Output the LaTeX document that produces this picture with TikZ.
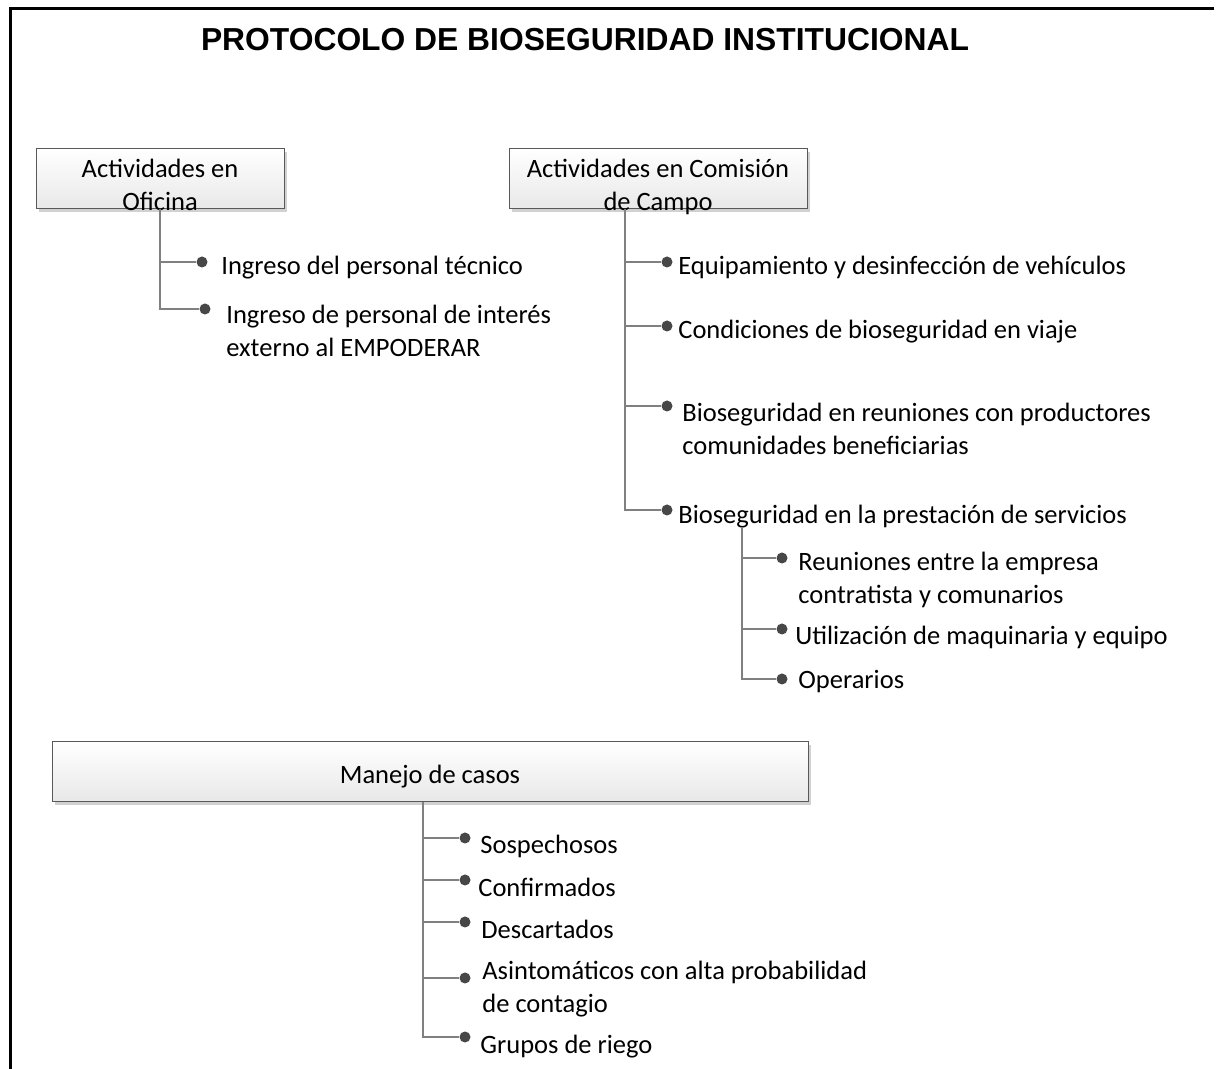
\documentclass[tikz,border=0pt]{standalone}
\usepackage{fontspec}
\setmainfont{Carlito}
\newfontfamily\titulofont{Liberation Sans}
\usetikzlibrary{shadows}

\begin{document}
\begin{tikzpicture}[x=0.5pt,y=-0.5pt,
    caja/.style={draw=black!65, line width=0.5pt, top color=white, bottom color=black!9,
      minimum width=#1, minimum height=30pt, inner sep=0pt,
      drop shadow={shadow xshift=1.5pt,shadow yshift=-1.5pt,fill=black!18,opacity=1}},
    rotulo/.style={anchor=base, inner sep=0pt, align=flush center, text width=#1,
      font=\fontsize{13.25pt}{16.5pt}\selectfont},
    rama/.style={draw=black!50, line width=0.7pt},
    punto/.style={circle, fill=black!72, minimum size=5.5pt, inner sep=0pt},
    item/.style={anchor=base west, inner sep=0pt, align=flush left,
      font=\fontsize{13.25pt}{16.5pt}\selectfont},
    item2/.style={item, text width=#1}]
  \useasboundingbox (0,0) rectangle (1223,1069);
  % marco
  \draw[line width=1.5pt] (10.5,1069) -- (10.5,9) -- (1214,9);
  \node[anchor=base, inner sep=0pt, font=\titulofont\bfseries\fontsize{15.9pt}{18pt}\selectfont]
    (tit) at (585,51) {PROTOCOLO DE BIOSEGURIDAD INSTITUCIONAL};

  % cajas
  \node[caja=124pt] (ofi) at (160,179) {};
  \node[rotulo=120pt] (ofit) at (160,178) {Actividades en\\Oficina};
  \node[caja=149pt] (campo) at (658,179) {};
  \node[rotulo=145pt] (campot) at (658,178) {Actividades en Comisi\'on\\de Campo};
  \node[caja=378pt] (casos) at (430,772) {};
  \node[rotulo=200pt] (casost) at (430,784) {Manejo de casos};

  % oficina
  \node[punto] (o1) at (202,262) {};
  \node[punto] (o2) at (205,309) {};
  \node[item] (o1t) at (221,275) {Ingreso del personal t\'ecnico};
  \node[item2=180pt] (o2t) at (226,324) {Ingreso de personal de inter\'es\\externo al EMPODERAR};
  \draw[rama] (ofi.south) |- (o1);
  \draw[rama] (ofi.south) |- (o2);

  % comision de campo
  \coordinate (c0) at (625,209);
  \node[punto] (c1) at (667,262) {};
  \node[punto] (c2) at (667,326) {};
  \node[punto] (c3) at (667,406) {};
  \node[punto] (c4) at (667,510) {};
  \node[item] (c1t) at (678,275) {Equipamiento y desinfecci\'on de veh\'iculos};
  \node[item] (c2t) at (678,339) {Condiciones de bioseguridad en viaje};
  \node[item2=260pt] (c3t) at (682,422) {Bioseguridad en reuniones con productores\\comunidades beneficiarias};
  \node[item] (c4t) at (678,524) {Bioseguridad en la prestaci\'on de servicios};
  \foreach \n in {1,...,4}
    \draw[rama] (c0) |- (c\n);

  \coordinate (s0) at (742,527);
  \node[punto] (s1) at (782,558) {};
  \node[punto] (s2) at (782,629) {};
  \node[punto] (s3) at (782,679) {};
  \node[item2=200pt] (s1t) at (798,571) {Reuniones entre la empresa\\contratista y comunarios};
  \node[item] (s2t) at (795,645) {Utilizaci\'on de maquinaria y equipo};
  \node[item] (s3t) at (798,689) {Operarios};
  \foreach \n in {1,2,3}
    \draw[rama] (s0) |- (s\n);

  % manejo de casos
  \coordinate (m0) at (423,802);
  \node[punto] (m1) at (465,838) {};
  \node[punto] (m2) at (465,880) {};
  \node[punto] (m3) at (465,922) {};
  \node[punto] (m4) at (465,978) {};
  \node[punto] (m5) at (465,1037) {};
  \node[item] (m1t) at (480,854) {Sospechosos};
  \node[item] (m2t) at (478,897) {Confirmados};
  \node[item] (m3t) at (481,939) {Descartados};
  \node[item2=250pt] (m4t) at (482,980) {Asintom\'aticos con alta probabilidad\\de contagio};
  \node[item] (m5t) at (480,1054) {Grupos de riego};
  \foreach \n in {1,...,5}
    \draw[rama] (m0) |- (m\n);
\end{tikzpicture}
\end{document}
